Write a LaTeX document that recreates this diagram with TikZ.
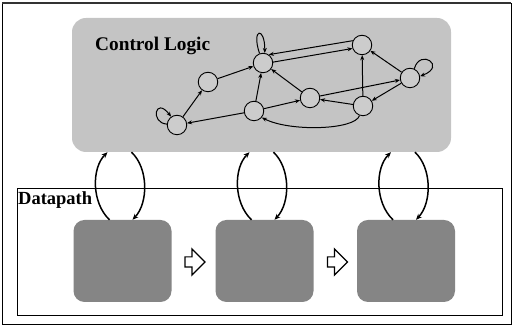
\documentclass[tikz,border=0pt]{standalone}
\usepackage{fontspec}
\usepackage{graphicx}
\setmainfont{Liberation Serif}
\usetikzlibrary{arrows.meta,shapes.arrows,calc}
\definecolor{lightdot}{gray}{0.77}
\definecolor{darkdot}{gray}{0.52}
\definecolor{statefill}{gray}{0.80}
\tikzset{
  ctlbox/.style={fill=lightdot, rounded corners=14pt, minimum width=379pt, minimum height=134pt, inner sep=0pt},
  dpframe/.style={draw=black, line width=0.6pt, fill=white, minimum width=485pt, minimum height=127pt, inner sep=0pt},
  unitbox/.style={fill=darkdot, rounded corners=11pt, minimum width=98pt, minimum height=82pt, inner sep=0pt},
  state/.style={circle, draw=black, line width=0.9pt, fill=statefill, minimum size=19.5pt, inner sep=0pt},
  tr/.style={line width=1pt, -{Stealth[length=5pt,width=4pt]}},
  loopline/.style={line width=1.5pt, -{Stealth[length=6pt,width=5pt]}},
  hollow/.style={single arrow, draw=black, line width=1.2pt, fill=white, inner sep=4.5pt, minimum height=20pt, single arrow head extend=8pt, single arrow tip angle=90},
  lbl/.style={font=\bfseries\fontsize{18}{22}\selectfont, inner sep=0pt}
}
\begin{document}
\begin{tikzpicture}[x=1pt,y=1pt]
\useasboundingbox (0,0) rectangle (515,328);
\draw[line width=0.7pt] (2,4) rectangle (511,325);
\draw[line width=1.4pt, black!80] (2,325) -- (511,325);

% Control logic
\node[ctlbox] (ctl) at (261.5,243) {};
\node[lbl, anchor=base west] (ctltext) at (95,277) {\resizebox{115pt}{!}{Control Logic}};

% Datapath
\node[dpframe] (dp) at (259.5,76.5) {};
\node[lbl, anchor=base west] (dptext) at (18,123) {\resizebox{74pt}{!}{Datapath}};
\node[unitbox] (u1) at (122.5,67) {};
\node[unitbox] (u2) at (264.5,67) {};
\node[unitbox] (u3) at (406,67) {};
\node[hollow] (ha1) at (192.5,66) {};
\node[hollow] (ha2) at (335,66) {};

% states
\node[state] (A) at (177,203) {};
\node[state] (B) at (208,246) {};
\node[state] (C) at (263,265) {};
\node[state] (D) at (254,217) {};
\node[state] (E) at (310,230) {};
\node[state] (F) at (362,283) {};
\node[state] (G) at (363,222) {};
\node[state] (H) at (410,250) {};

\draw[tr] (A) -- (B);
\draw[tr] (B) -- (C);
\draw[tr] (D) -- (C);
\draw[tr] (E) -- (C);
\draw[tr] (D) -- (E);
\draw[tr] (G) -- (E);
\draw[tr] (G) -- (F);
\draw[tr] (H) -- (F);
\draw[tr] (E) -- (H);
\draw[tr] (H) -- (G);
\draw[tr] (D) -- (A);
\draw[tr] (C.5) -- (F.200);
\draw[tr] (F.155) -- (C.55);
\draw[tr] (G.250) .. controls (355,198) and (290,196) .. (D.-40);
\draw[tr] (A.175) .. controls (150,205) and (155,232) .. (A.125);
\draw[tr] (C.110) .. controls (251,300) and (265,302) .. (C.80);
\draw[tr] (H.65) .. controls (420,280) and (447,262) .. (H.10);

% loops between control and datapath
\foreach \u in {u1,u2,u3}{
  \draw[loopline] ($(\u.north)+(-13,0)$) .. controls +(-18,17) and +(-16,-16) .. ($(\u.north |- ctl.south)+(-15,0)$);
  \draw[loopline] ($(\u.north |- ctl.south)+(9,0)$) .. controls +(17,-16) and +(16,17) .. ($(\u.north)+(10,0)$);
}
\end{tikzpicture}
\end{document}
